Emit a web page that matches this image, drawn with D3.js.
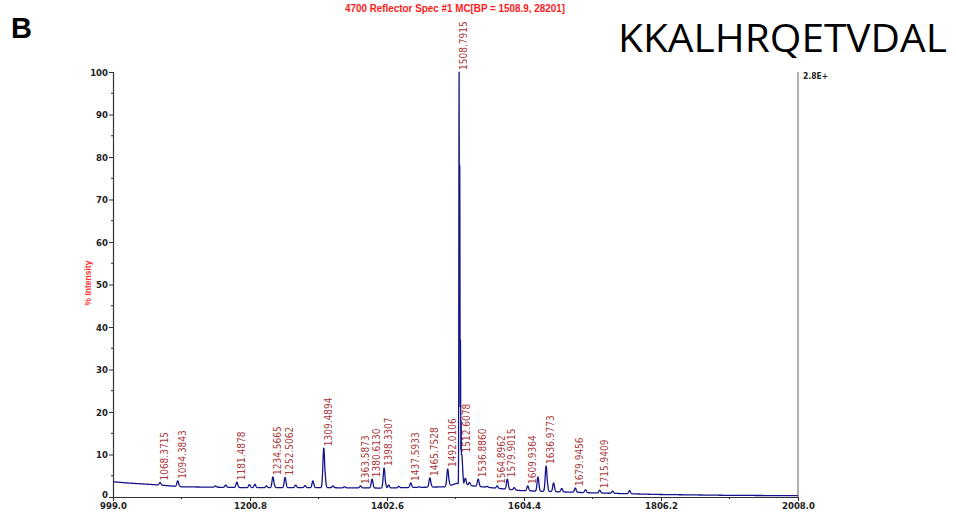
<!DOCTYPE html>
<html>
<head>
<meta charset="utf-8">
<script src="https://cdn.jsdelivr.net/npm/d3@7/dist/d3.min.js"></script>
<style>
  html, body { margin: 0; padding: 0; background: #fff; }
  svg { display: block; }
</style>
</head>
<body>
<svg id="chart" width="956" height="513"></svg>
<script>
// MALDI reflector spectrum, m/z vs % intensity

// Labelled peaks (m/z and apex % intensity)
const labelMz = [1068.3715, 1094.3843, 1181.4878, 1234.5665, 1252.5062, 1309.4894,
  1363.5873, 1380.6130, 1398.3307, 1437.5933, 1465.7528, 1492.0106, 1508.7915,
  1512.6078, 1536.8860, 1564.8962, 1579.9015, 1609.9364, 1636.9773, 1679.9456, 1715.9409];
const labelIntensity = [3.4, 3.8, 3.5, 4.7, 4.6, 11.5,
  2.6, 4.2, 6.8, 3.3, 4.5, 6.6, 100,
  10, 4.2, 2.6, 4.2, 2.6, 7.3, 2.1, 1.6];

// Unlabelled peaks and isotope shoulders
const otherMz = [1095.4, 1150, 1165, 1200, 1208, 1225, 1235.6, 1268, 1282, 1293.5,
  1310.5, 1311.5, 1323, 1340, 1399.3, 1405, 1420, 1450, 1466.8, 1480, 1493.0,
  1509.79, 1510.79, 1511.79, 1518, 1524, 1550, 1590, 1625, 1637.9, 1648, 1660,
  1695, 1735, 1760];
const otherIntensity = [3.0, 2.6, 2.8, 2.9, 3.0, 2.6, 3.4, 2.8, 2.7, 3.8,
  7.0, 3.6, 2.6, 2.4, 4.2, 2.8, 2.5, 2.4, 3.2, 2.4, 4.4,
  78, 37, 18, 4.4, 3.4, 2.5, 2.2, 4.7, 4.5, 3.3, 2.0,
  1.7, 1.4, 1.5];

// Chemical-noise baseline level along the m/z range
const baselineMz = [999, 1020, 1060, 1100, 1200, 1300, 1400, 1490, 1505, 1530, 1600, 1700, 1800, 1900, 2008];
const baselineLevel = [3.6, 3.3, 2.9, 2.4, 2.2, 2.2, 2.1, 2.4, 3.2, 2.6, 1.5, 1.0, 0.6, 0.4, 0.3];

// Axis ticks
const xMajorTicks = [999.0, 1200.8, 1402.6, 1604.4, 1806.2, 2008.0];
const xMinorTicks = [1099.9, 1301.7, 1503.5, 1705.3, 1907.1];
const yMajorTicks = [0, 10, 20, 30, 40, 50, 60, 70, 80, 90, 100];
const yMinorTicks = [5, 15, 25, 35, 45, 55, 65, 75, 85, 95];

const svg = d3.select("#chart");
const margin = { left: 113, right: 158, top: 72, bottom: 16 };
const W = 956, H = 513;

const x = d3.scaleLinear().domain([999.0, 2008.0]).range([margin.left, W - margin.right]);
const y = d3.scaleLinear().domain([0, 100]).range([H - margin.bottom, margin.top]);
const baseline = d3.scaleLinear().domain(baselineMz).range(baselineLevel).clamp(true);

// Peak list combined, with shape widths (Da)
const peaks = [];
labelMz.forEach((m, i) => peaks.push({ mz: m, h: labelIntensity[i], w: labelIntensity[i] > 50 ? 0.35 : 1.3 }));
otherMz.forEach((m, i) => peaks.push({ mz: m, h: otherIntensity[i], w: otherIntensity[i] > 15 ? 0.35 : 1.3 }));

// Profile sampled across the m/z range; overlapping peaks take the larger envelope
const grid = d3.range(999.0, 2008.0001, 0.2);
const profile = grid.map(m => {
  const b = baseline(m);
  let top = 0;
  for (const p of peaks) {
    const d = (m - p.mz) / p.w;
    if (Math.abs(d) < 6) {
      const amp = Math.max(0, p.h - baseline(p.mz));
      top = Math.max(top, amp * Math.exp(-0.5 * d * d));
    }
  }
  return { mz: m, v: Math.min(b + top, 100) };
});

// Title
svg.append("text")
  .attr("x", 455).attr("y", 12)
  .attr("text-anchor", "middle")
  .attr("font-family", "Liberation Sans, Arial, sans-serif")
  .attr("font-weight", "bold")
  .attr("font-size", 10)
  .attr("fill", "#ff1a1a")
  .attr("textLength", 220)
  .attr("lengthAdjust", "spacingAndGlyphs")
  .text("4700 Reflector Spec #1 MC[BP = 1508.9, 28201]");

// Panel letter
svg.append("text")
  .attr("x", 11).attr("y", 38)
  .attr("font-family", "Liberation Sans, Arial, sans-serif")
  .attr("font-weight", "bold")
  .attr("font-size", 29)
  .attr("fill", "#000")
  .text("B");

// Peptide sequence
svg.append("text")
  .attr("x", 618).attr("y", 52)
  .attr("font-family", "Open Sans, sans-serif")
  .attr("font-size", 38)
  .attr("fill", "#000")
  .attr("textLength", 329)
  .attr("lengthAdjust", "spacingAndGlyphs")
  .text("KKALHRQETVDAL");

// Y axis label
svg.append("text")
  .attr("transform", "translate(91,283) rotate(-90)")
  .attr("text-anchor", "middle")
  .attr("font-family", "Liberation Sans, Arial, sans-serif")
  .attr("font-weight", "bold")
  .attr("font-size", 8.5)
  .attr("fill", "#ff3333")
  .text("% Intensity");

const tickFont = "Liberation Sans Narrow, DejaVu Sans Condensed, Arial Narrow, sans-serif";

// Left axis
const yAxis = d3.axisLeft(y).tickValues(yMajorTicks).tickSize(4).tickFormat(d3.format("d"));
const gy = svg.append("g").attr("transform", `translate(${margin.left},0)`).call(yAxis);
gy.select(".domain").attr("stroke", "#333").attr("stroke-width", 1.2);
gy.selectAll(".tick line").attr("stroke", "#333");
gy.selectAll(".tick text").attr("font-family", tickFont).attr("font-weight", "bold")
  .attr("font-size", 9.5).attr("fill", "#222").attr("x", -5)
  .attr("dy", d => d === 0 ? "0.1em" : "0.32em");
svg.append("g").selectAll("line").data(yMinorTicks).join("line")
  .attr("x1", margin.left - 2).attr("x2", margin.left)
  .attr("y1", d => y(d)).attr("y2", d => y(d))
  .attr("stroke", "#333");

// Bottom axis
const xAxis = d3.axisBottom(x).tickValues(xMajorTicks).tickSize(4).tickFormat(d3.format(".1f"));
const gx = svg.append("g").attr("transform", `translate(0,${y(0)})`).call(xAxis);
gx.select(".domain").attr("stroke", "#333").attr("stroke-width", 1.2);
gx.selectAll(".tick line").attr("stroke", "#333");
gx.selectAll(".tick text").attr("font-family", tickFont).attr("font-weight", "bold")
  .attr("font-size", 9.5).attr("fill", "#222").attr("y", 5).attr("dy", "0.71em");
svg.append("g").selectAll("line").data(xMinorTicks).join("line")
  .attr("x1", d => x(d)).attr("x2", d => x(d))
  .attr("y1", y(0)).attr("y2", y(0) + 2)
  .attr("stroke", "#333");

// Right frame line and absolute intensity marker
svg.append("line")
  .attr("x1", x(2008.0)).attr("x2", x(2008.0))
  .attr("y1", y(100)).attr("y2", y(0))
  .attr("stroke", "#b0b0b0").attr("stroke-width", 2);
svg.append("text")
  .attr("x", x(2008.0) + 5).attr("y", y(100) + 7)
  .attr("font-family", tickFont).attr("font-weight", "bold")
  .attr("font-size", 8.5).attr("fill", "#222")
  .text("2.8E+");

// Spectrum trace
const line = d3.line().x(d => x(d.mz)).y(d => y(d.v));
svg.append("path")
  .datum(profile)
  .attr("d", line)
  .attr("fill", "none")
  .attr("stroke", "#14148c")
  .attr("stroke-width", 1.3)
  .attr("stroke-linejoin", "round");

// Peak annotations
svg.append("g").selectAll("text")
  .data(labelMz.map((m, i) => ({ mz: m, h: labelIntensity[i] })))
  .join("text")
  .attr("transform", d => `translate(${x(d.mz) + 8},${y(d.h) - 2}) rotate(-90)`)
  .attr("font-family", tickFont)
  .attr("font-size", 10)
  .attr("fill", "#a8393c")
  .text(d => d.mz.toFixed(4));
</script>
</body>
</html>
